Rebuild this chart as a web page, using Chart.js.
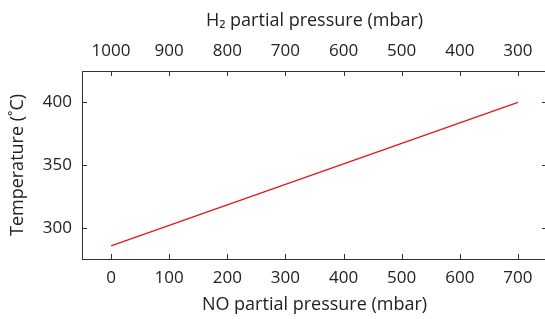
<!DOCTYPE html>
<html>
<head>
<meta charset="utf-8">
<script src="https://cdn.jsdelivr.net/npm/chart.js@4.4.0/dist/chart.umd.min.js"></script>
<style>
  html, body { margin: 0; padding: 0; background: #fff; overflow: hidden; }
  #wrap { width: 560px; height: 319px; }
</style>
</head>
<body>
<div id="wrap"><canvas id="chart" width="560" height="319"></canvas></div>
<script>
// dados
const noPressure = [0, 700];
const temperature = [285.5, 400];
const noTicks = [0, 100, 200, 300, 400, 500, 600, 700];
const h2Labels = ['1000', '900', '800', '700', '600', '500', '400', '300'];
const tempTicks = [300, 350, 400];

const textColor = '#222222';
const axisColor = '#333333';
const fontFamily = "'Open Sans', sans-serif";

const setTicks = (vals) => (axis) => { axis.ticks = vals.map(v => ({ value: v })); };

// marcas de escala voltadas para dentro
const inwardTicks = {
    id: 'inwardTicks',
    afterDraw(chart) {
        const { ctx, chartArea: a, scales } = chart;
        const len = 5;
        ctx.save();
        ctx.strokeStyle = axisColor;
        ctx.lineWidth = 1;
        ctx.beginPath();
        noTicks.forEach(v => {
            const px = Math.round(scales.x.getPixelForValue(v)) + 0.5;
            ctx.moveTo(px, a.bottom); ctx.lineTo(px, a.bottom - len);
            ctx.moveTo(px, a.top); ctx.lineTo(px, a.top + len);
        });
        tempTicks.forEach(v => {
            const py = Math.round(scales.y.getPixelForValue(v)) + 0.5;
            ctx.moveTo(a.left, py); ctx.lineTo(a.left + len, py);
            ctx.moveTo(a.right, py); ctx.lineTo(a.right - len, py);
        });
        ctx.stroke();
        ctx.restore();
    }
};

new Chart(document.getElementById('chart'), {
    type: 'scatter',
    data: {
        datasets: [{
            data: noPressure.map((x, i) => ({ x, y: temperature[i] })),
            showLine: true,
            borderColor: '#e8151b',
            borderWidth: 1.3,
            pointRadius: 0,
            fill: false
        }]
    },
    options: {
        responsive: false,
        animation: false,
        devicePixelRatio: 1,
        layout: { padding: 0 },
        plugins: { legend: { display: false }, tooltip: { enabled: false } },
        scales: {
            x: {
                type: 'linear', position: 'bottom', min: -50, max: 750,
                afterBuildTicks: setTicks(noTicks),
                afterFit: s => { s.height = 60; },
                grid: { display: false, drawTicks: false },
                border: { display: true, color: axisColor, width: 1 },
                ticks: { color: textColor, font: { family: fontFamily, size: 17 }, padding: 9, maxRotation: 0 },
                title: { display: true, text: 'NO partial pressure (mbar)', color: textColor, font: { family: fontFamily, size: 18 }, padding: { top: 0, bottom: 3 } }
            },
            x2: {
                type: 'linear', position: 'top', min: -50, max: 750,
                afterBuildTicks: setTicks(noTicks),
                afterFit: s => { s.height = 71; },
                grid: { display: false, drawTicks: false },
                border: { display: true, color: axisColor, width: 1 },
                ticks: { color: textColor, font: { family: fontFamily, size: 17 }, padding: 10, maxRotation: 0,
                    callback: (v, i) => h2Labels[i] },
                title: { display: true, text: 'H\u2082 partial pressure (mbar)', color: textColor, font: { family: fontFamily, size: 18 }, padding: { top: 10, bottom: 0 } }
            },
            y: {
                type: 'linear', position: 'left', min: 275, max: 425,
                afterBuildTicks: setTicks(tempTicks),
                afterFit: s => { s.width = 82; },
                grid: { display: false, drawTicks: false },
                border: { display: true, color: axisColor, width: 1 },
                ticks: { color: textColor, font: { family: fontFamily, size: 17 }, padding: 10 },
                title: { display: true, text: 'Temperature (\u02DAC)', color: textColor, font: { family: fontFamily, size: 18 }, padding: { top: 7, bottom: 0 } }
            },
            y2: {
                type: 'linear', position: 'right', min: 275, max: 425,
                afterBuildTicks: setTicks(tempTicks),
                afterFit: s => { s.width = 13; },
                grid: { display: false, drawTicks: false },
                border: { display: true, color: axisColor, width: 1 },
                ticks: { display: false }
            }
        }
    },
    plugins: [inwardTicks]
});
</script>
</body>
</html>
